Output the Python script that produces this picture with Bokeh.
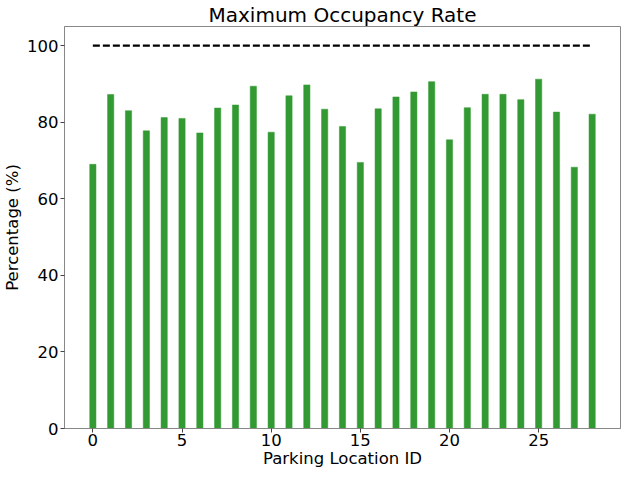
from bokeh.plotting import figure
from bokeh.models import Range1d, FixedTicker
from bokeh.embed import file_html
from bokeh.resources import INLINE

location_ids = list(range(29))
occupancy = [69.0, 87.25, 83.0, 77.75, 81.2, 81.0, 77.2, 83.7, 84.5, 89.4,
             77.4, 86.9, 89.75, 83.4, 78.9, 69.5, 83.5, 86.6, 87.9, 90.6,
             75.4, 83.8, 87.3, 87.3, 85.9, 91.25, 82.65, 68.25, 82.1]
limit_x = [0, 28]
limit_y = [100, 100]

FONT = "DejaVu Sans"

p = figure(width=621, height=470, output_backend="svg", toolbar_location=None,
           title="Maximum Occupancy Rate",
           x_range=Range1d(-1.59, 29.59), y_range=Range1d(0, 105),
           min_border_left=0, min_border_right=1, min_border_top=0, min_border_bottom=0)

p.vbar(x=location_ids, top=occupancy, width=0.35, bottom=0,
       fill_color="#339a33", line_color="#339a33", line_width=0.5)
p.line(limit_x, limit_y, line_color="black", line_width=2.2, line_dash="7 3")

p.title.text_font = FONT
p.title.text_font_size = "20px"
p.title.text_font_style = "normal"
p.title.align = "center"
p.title.text_color = "black"
p.title.standoff = 0
p.title.offset = 0

p.xgrid.visible = False
p.ygrid.visible = False
p.outline_line_color = "#888888"
p.outline_line_width = 1

for ax in (p.xaxis[0], p.yaxis[0]):
    ax.axis_label_text_font = FONT
    ax.axis_label_text_font_size = "16.5px"
    ax.axis_label_text_font_style = "normal"
    ax.axis_label_text_color = "black"
    ax.major_label_text_font = FONT
    ax.major_label_text_font_size = "16.5px"
    ax.major_label_text_color = "black"
    ax.axis_line_color = "#888888"
    ax.major_tick_line_color = "#444444"
    ax.major_tick_out = 4
    ax.major_tick_in = 0
    ax.minor_tick_line_color = None
    ax.axis_label_standoff = 2
    ax.major_label_standoff = 2

p.xaxis.axis_label_standoff = 0
p.xaxis.major_label_standoff = 1

p.xaxis.axis_label = "Parking Location ID"
p.yaxis.axis_label = "Percentage (%)"
p.xaxis.ticker = FixedTicker(ticks=[0, 5, 10, 15, 20, 25])
p.yaxis.ticker = FixedTicker(ticks=[0, 20, 40, 60, 80, 100])

open("out.html", "w").write(file_html(p, INLINE))
